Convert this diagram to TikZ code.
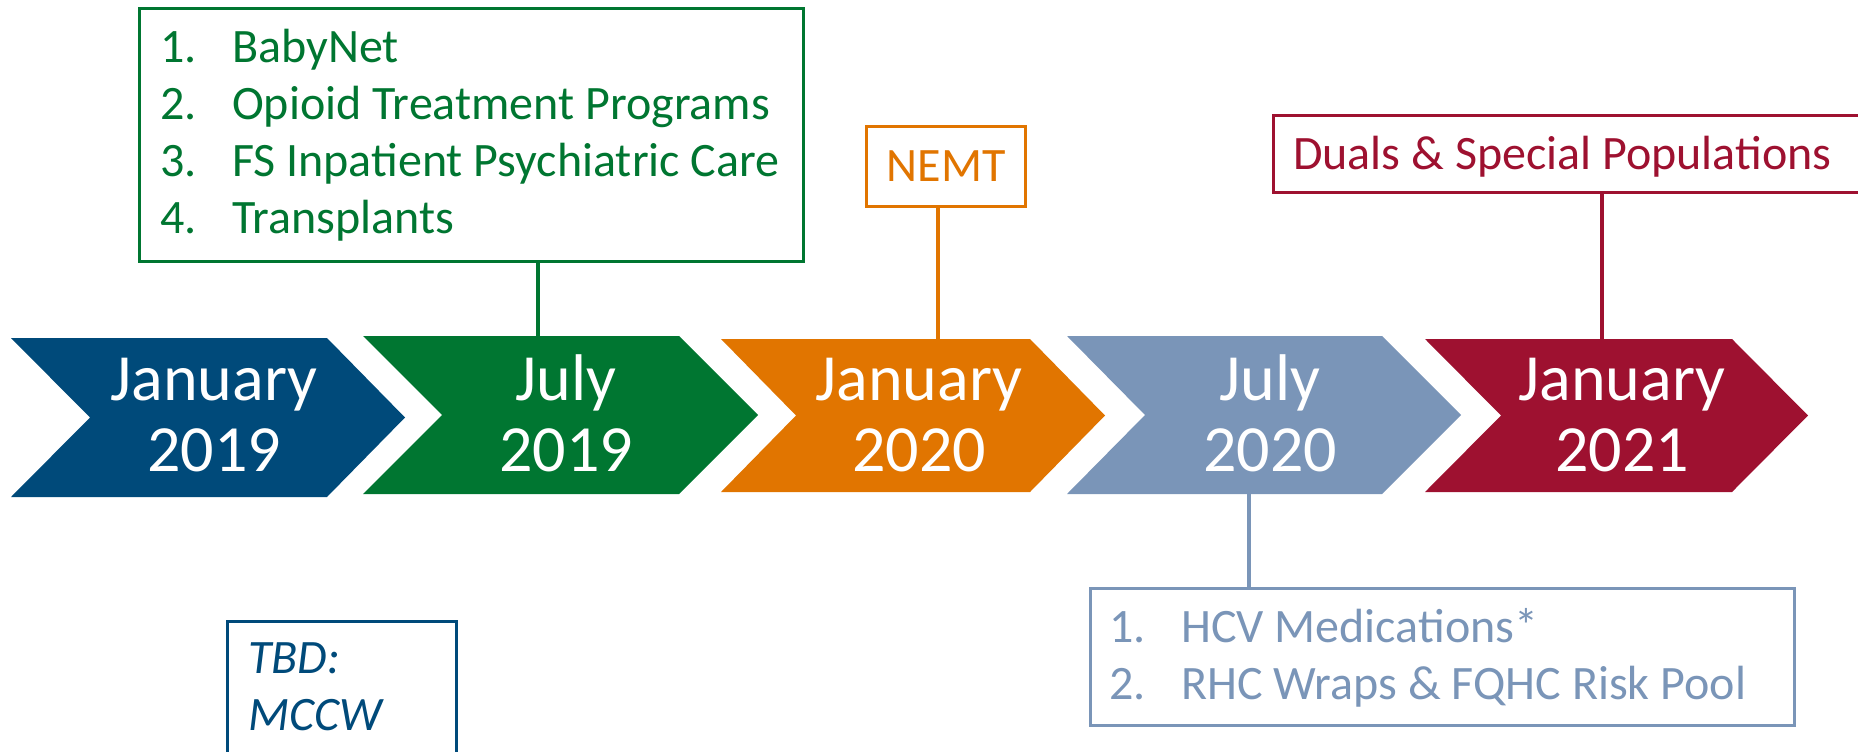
\documentclass[tikz,border=0pt]{standalone}
\usepackage{fontspec}
\setmainfont{Carlito}
\definecolor{cblue}{RGB}{0,74,122}
\definecolor{cgreen}{RGB}{0,118,49}
\definecolor{corange}{RGB}{225,117,0}
\definecolor{clight}{RGB}{122,149,184}
\definecolor{cred}{RGB}{158,17,48}
\newcommand{\numitem}[2]{\makebox[72pt][l]{#1}#2}
\tikzset{
  chevtext/.style={text=white, inner sep=0pt, anchor=base,
    font=\fontsize{66}{70.5}\selectfont},
  boxnode/.style={draw, line width=3pt, fill=white, inner sep=0pt},
  listtext/.style={inner sep=0pt, anchor=base west,
    font=\fontsize{48}{57}\selectfont},
  conn/.style={line width=3.5pt}
}
\begin{document}
\begin{tikzpicture}[x=1pt,y=-1pt]
\useasboundingbox (0,0) rectangle (1858,752);
% chevrons
\fill[cblue]   (11,338) -- (327,338) -- (405,417.5) -- (327,497) -- (11,497) -- (90,417.5) -- cycle;
\fill[cgreen]  (363,336) -- (679,336) -- (758,415) -- (679,494) -- (363,494) -- (442,415) -- cycle;
\fill[corange] (721,339) -- (1030,339) -- (1105,415.5) -- (1030,492) -- (721,492) -- (796,415.5) -- cycle;
\fill[clight]  (1067,336) -- (1382,336) -- (1461,415) -- (1382,494) -- (1067,494) -- (1145,415) -- cycle;
\fill[cred]    (1425,339) -- (1732,339) -- (1808,415.5) -- (1732,492) -- (1425,492) -- (1501,415.5) -- cycle;
\node[chevtext] (c1) at (214,400.5) {\begin{tabular}[t]{@{}c@{}}January\\2019\end{tabular}};
\node[chevtext] (c2) at (566,400.5) {\begin{tabular}[t]{@{}c@{}}July\\2019\end{tabular}};
\node[chevtext] (c3) at (919,400.5) {\begin{tabular}[t]{@{}c@{}}January\\2020\end{tabular}};
\node[chevtext] (c4) at (1270,400.5) {\begin{tabular}[t]{@{}c@{}}July\\2020\end{tabular}};
\node[chevtext] (c5) at (1622,400.5) {\begin{tabular}[t]{@{}c@{}}January\\2021\end{tabular}};
\coordinate (c2top) at (538,336);
\coordinate (c3top) at (938,339);
\coordinate (c4bot) at (1249,494);
\coordinate (c5top) at (1602,339);
% boxes
\node[boxnode, draw=cgreen, anchor=north west, minimum width=664pt, minimum height=253pt] (gbox) at (138,7) {};
\node[boxnode, draw=corange, text=corange, minimum width=159pt, minimum height=80pt,
  font=\fontsize{48}{57}\selectfont] (nbox) at (946,166) {NEMT};
\node[boxnode, draw=cred, anchor=north west, minimum width=640pt, minimum height=77pt] (dbox) at (1272,114) {};
\node[boxnode, draw=clight, anchor=north west, minimum width=704pt, minimum height=137pt] (lbox) at (1089,587) {};
\node[boxnode, draw=cblue, anchor=north west, minimum width=229pt, minimum height=200pt] (tbox) at (226,620) {};
% box texts
\node[listtext, text=cgreen] (gtext) at (160,63) {\begin{tabular}[t]{@{}l@{}}
\numitem{1.}{BabyNet}\\
\numitem{2.}{Opioid Treatment Programs}\\
\numitem{3.}{FS Inpatient Psychiatric Care}\\
\numitem{4.}{Transplants}\end{tabular}};
\node[listtext, text=cred] (dtext) at (1293,169) {Duals \& Special Populations};
\node[listtext, text=clight] (ltext) at (1109,642) {\begin{tabular}[t]{@{}l@{}}
\numitem{1.}{HCV Medications*}\\
\numitem{2.}{RHC Wraps \& FQHC Risk Pool}\end{tabular}};
\node[listtext, text=cblue] (ttext) at (248,673) {\itshape\begin{tabular}[t]{@{}l@{}}TBD:\\MCCW\end{tabular}};
% connectors
\draw[conn, cgreen] (gbox.south -| c2top) -- (c2top);
\draw[conn, corange] (nbox.south -| c3top) -- (c3top);
\draw[conn, cred] (dbox.south -| c5top) -- (c5top);
\draw[conn, clight] (c4bot) -- (lbox.north -| c4bot);
\end{tikzpicture}
\end{document}
